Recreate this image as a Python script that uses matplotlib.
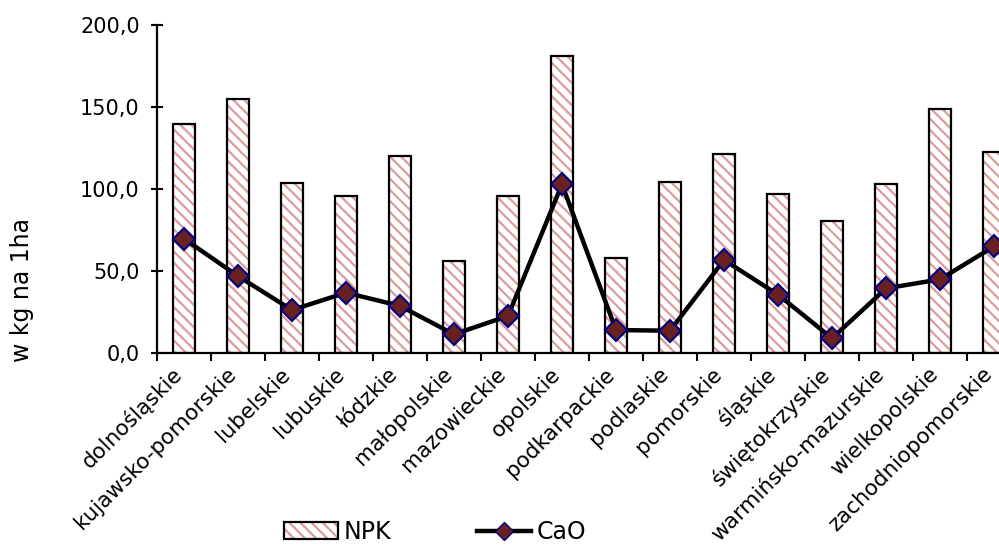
"""Nawożenie NPK i CaO wg województw — bar + line chart."""
import numpy as np
import matplotlib
matplotlib.use("Agg")
import matplotlib.pyplot as plt
from matplotlib.patches import Patch
from matplotlib.lines import Line2D
from matplotlib.legend_handler import HandlerTuple
from matplotlib.ticker import FuncFormatter, FixedLocator
from matplotlib.transforms import ScaledTranslation

wojewodztwa = ["dolnośląskie", "kujawsko-pomorskie", "lubelskie", "lubuskie",
               "łódzkie", "małopolskie", "mazowieckie", "opolskie",
               "podkarpackie", "podlaskie", "pomorskie", "śląskie",
               "świętokrzyskie", "warmińsko-mazurskie", "wielkopolskie",
               "zachodniopomorskie"]
npk = [139.6, 154.7, 103.7, 95.7, 120.1, 55.9, 95.9, 181.0,
       58.1, 104.3, 121.5, 96.7, 80.3, 102.8, 149.0, 122.4]
cao = [69.7, 46.9, 26.2, 36.8, 28.7, 11.4, 22.6, 102.9,
       14.0, 13.6, 56.7, 35.6, 9.0, 39.4, 44.9, 65.0]

HATCH_COL = "#dc9c9c"
plt.rcParams["font.family"] = "DejaVu Sans"
plt.rcParams["hatch.linewidth"] = 1.6

fig = plt.figure(figsize=(9.99, 5.51), dpi=100)
ax = fig.add_axes([157 / 999, 1 - 353 / 551, 864 / 999, 328 / 551])

x = np.arange(len(wojewodztwa))
w = 0.4
# hatch in pink, outline in black (drawn separately)
ax.bar(x, npk, width=w, color="white", edgecolor=HATCH_COL, hatch="\\\\\\",
       linewidth=0, zorder=2)
ax.bar(x, npk, width=w, fill=False, edgecolor="black", linewidth=1.6, zorder=3)
ax.plot(x, cao, color="black", lw=3.2, marker="D", markersize=11,
        markerfacecolor="#682020", markeredgecolor="#000080",
        markeredgewidth=1.5, zorder=4, clip_on=False)

ax.set_xlim(-0.5, len(wojewodztwa) - 0.5)
ax.set_ylim(0, 200)
ax.set_yticks([0, 50, 100, 150, 200])
ax.yaxis.set_major_formatter(FuncFormatter(lambda v, p: f"{v:.1f}".replace(".", ",")))
ax.tick_params(axis="y", direction="inout", length=9, width=1.5,
               labelsize=15, pad=8)

ax.set_xticks(x)
ax.set_xticklabels(wojewodztwa, rotation=45, ha="right", va="center",
                   rotation_mode="anchor", fontsize=15.5)
ax.tick_params(axis="x", which="major", length=0, pad=13)
shift = ScaledTranslation(-0.05, 0, fig.dpi_scale_trans)
for lab in ax.get_xticklabels():
    lab.set_transform(lab.get_transform() + shift)
ax.xaxis.set_minor_locator(FixedLocator(np.arange(-0.5, len(wojewodztwa), 1.0)))
ax.tick_params(axis="x", which="minor", direction="out", length=6, width=1.5)

for s in ["top", "right"]:
    ax.spines[s].set_visible(False)
for s in ["left", "bottom"]:
    ax.spines[s].set_linewidth(1.6)

fig.text(22 / 999, 1 - 290 / 551, "w kg na 1ha", rotation=90,
         ha="center", va="center", fontsize=17)

h_npk = (Patch(facecolor="white", edgecolor=HATCH_COL, hatch="\\\\\\", linewidth=0),
         Patch(fill=False, edgecolor="black", linewidth=1.6))
h_cao = Line2D([], [], color="black", lw=3.2, marker="D", markersize=9,
               markerfacecolor="#682020", markeredgecolor="#000080")
fig.legend([h_npk, h_cao], ["NPK", "CaO"], ncol=2, frameon=False,
           loc="center", bbox_to_anchor=(435 / 999, 1 - 532 / 551),
           fontsize=17, handlelength=2.3, handletextpad=0.25,
           columnspacing=3.6, borderpad=0,
           handler_map={tuple: HandlerTuple(ndivide=1, pad=0)})

fig.savefig("out.png", dpi=100)
